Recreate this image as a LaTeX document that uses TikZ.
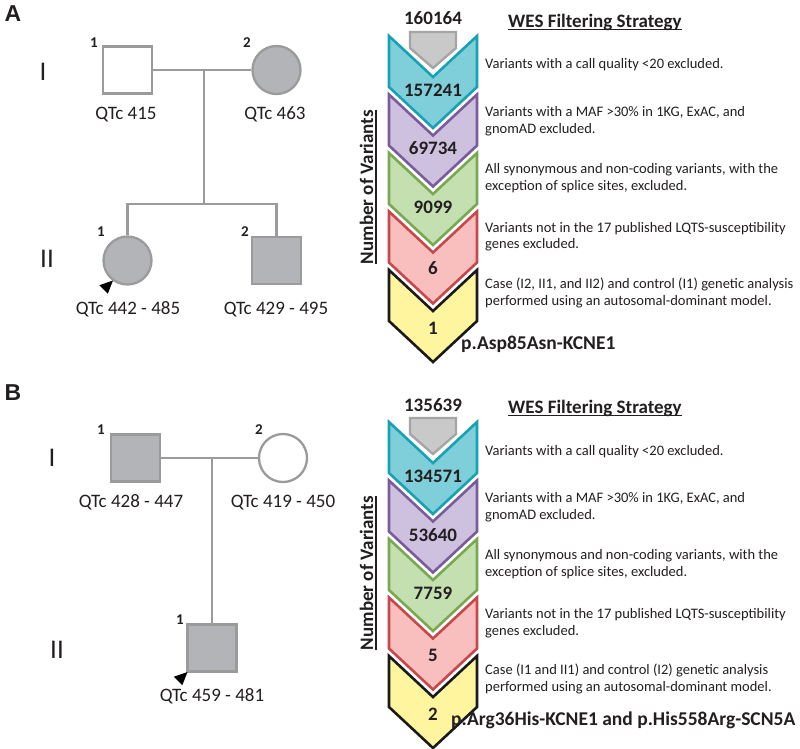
\documentclass[tikz,border=0pt]{standalone}
\usepackage{fontspec}
\setmainfont{Carlito}
\newfontfamily\panelfont{Liberation Sans}
\usetikzlibrary{calc}
\definecolor{pedline}{HTML}{9B9B9B}
\definecolor{pedfill}{HTML}{B3B4B7}
\definecolor{txtc}{HTML}{231F20}
\definecolor{grayS}{HTML}{A5A5A5}\definecolor{grayF}{HTML}{C9C9CA}
\definecolor{tealS}{HTML}{17A2B4}\definecolor{tealF}{HTML}{7ECFD9}
\definecolor{purpS}{HTML}{7A5C9C}\definecolor{purpF}{HTML}{CDC1DF}
\definecolor{grnS}{HTML}{78A852}\definecolor{grnF}{HTML}{C4DFB0}
\definecolor{redS}{HTML}{C8474A}\definecolor{redF}{HTML}{F9BFBF}
\definecolor{ylwS}{HTML}{1A1A1A}\definecolor{ylwF}{HTML}{FFF59F}
% #1 top y, #2 stroke, #3 fill : side 51, V depth 41
\newcommand\mychev[3]{%
  \draw[chev, draw=#2, fill=#3] (389,#1) -- (433,#1+41) -- (477,#1) -- (477,#1+51) -- (433,#1+92) -- (389,#1+51) -- cycle;}
\newcommand\mygray[1]{%
  \draw[line width=2.4pt, draw=grayS, fill=grayF, line join=miter] (410,#1) -- (456,#1) -- (456,#1+16) -- (433,#1+36) -- (410,#1+16) -- cycle;}
\begin{document}
\begin{tikzpicture}[x=1pt,y=-1pt,
  every node/.style={inner sep=0pt, text=txtc},
  chev/.style={line width=2.6pt, line join=miter},
  pl/.style={draw=pedline, line width=2.3pt},
  sq/.style={rectangle, draw=pedline, line width=2.3pt, minimum width=49pt, minimum height=47pt},
  ci/.style={circle, draw=pedline, line width=2.3pt, minimum size=48pt},
  aff/.style={fill=pedfill},
  unaff/.style={fill=white},
  desc/.style={anchor=base west, font=\fontsize{14.5}{17}\selectfont},
  num/.style={anchor=center, font=\bfseries\fontsize{19}{22}\selectfont},
  head/.style={anchor=base west, font=\bfseries\fontsize{19}{22}\selectfont},
  res/.style={anchor=base west, font=\bfseries\fontsize{19.5}{22}\selectfont},
  qtc/.style={anchor=base, font=\fontsize{19}{22}\selectfont},
  pnum/.style={anchor=center, font=\bfseries\fontsize{15}{18}\selectfont},
  gen/.style={anchor=center, font=\fontsize{27}{30}\selectfont},
  panel/.style={anchor=center, font=\panelfont\bfseries\fontsize{23}{26}\selectfont},
  prob/.style={fill=black}]
\useasboundingbox[fill=white] (0,0) rectangle (800,748);

% ================= Panel A =================
\node[panel] (lA) at (13,14) {A};
\node[gen] (gA1) at (43,72) {I};
\node[gen] (gA2) at (47,259) {II};

\node[sq, unaff] (a11) at (127.5,70) {};
\node[ci, aff] (a12) at (276.5,70) {};
\node[ci, aff] (a21) at (127.5,260.5) {};
\node[sq, aff] (a22) at (276.5,260.5) {};
\coordinate (am) at (204,70);
\coordinate (asib) at (204,204);
\coordinate (asl) at (127.5,204);
\coordinate (asr) at (276.5,204);
\draw[pl] (a11) -- (a12);
\draw[pl] (am) -- (asib);
\draw[pl, line cap=rect] (asl) -- (asr);
\draw[pl] (asl) -- (a21.north);
\draw[pl] (asr) -- (a22.north);
\node[pnum] (na11) at (94,43) {1};
\node[pnum] (na12) at (247,43) {2};
\node[pnum] (na21) at (101,232) {1};
\node[pnum] (na22) at (245,232) {2};
\node[qtc] (qa11) at (126,119) {QTc 415};
\node[qtc] (qa12) at (275,119) {QTc 463};
\node[qtc] (qa21) at (128,314) {QTc 442 - 485};
\node[qtc] (qa22) at (276,314) {QTc 429 - 495};
\fill[prob] (113,280.5) -- (99.3,285.2) -- (107.8,293.7) -- cycle;

% chevrons A
\node[num] (cA0) at (433,18) {160164};
\mygray{32}
\mychev{36}{tealS}{tealF}
\mychev{94.5}{purpS}{purpF}
\mychev{153}{grnS}{grnF}
\mychev{211.5}{redS}{redF}
\mychev{270}{ylwS}{ylwF}
\node[num] (cA1) at (433,90) {157241};
\node[num] (cA2) at (433,148) {69734};
\node[num] (cA3) at (433,207) {9099};
\node[num] (cA4) at (433,268) {6};
\node[num] (cA5) at (433,328) {1};

\node[anchor=base, rotate=90, font=\bfseries\fontsize{19}{22}\selectfont] (nvA) at (373,187) {Number of Variants};
\draw[line width=1.1pt, draw=txtc] ($(nvA.base west)+(3,0)$) -- ($(nvA.base east)+(3,0)$);

\node[head] (wesA) at (508,27) {WES Filtering Strategy};
\draw[line width=1.1pt, draw=txtc] ($(wesA.base west)+(0,2.5)$) -- ($(wesA.base east)+(0,2.5)$);

\node[desc] (dA1) at (485,68) {Variants with a call quality <20 excluded.};
\node[desc] (dA2a) at (485,116) {Variants with a MAF >30\% in 1KG, ExAC, and};
\node[desc] (dA2b) at (485,133) {gnomAD excluded.};
\node[desc] (dA3a) at (485,173) {All synonymous and non-coding variants, with the};
\node[desc] (dA3b) at (485,190) {exception of splice sites, excluded.};
\node[desc] (dA4a) at (485,232) {Variants not in the 17 published LQTS-susceptibility};
\node[desc] (dA4b) at (485,248) {genes excluded.};
\node[desc] (dA5a) at (485,288) {Case (I2, II1, and II2) and control (I1) genetic analysis};
\node[desc] (dA5b) at (485,305) {performed using an autosomal-dominant model.};
\node[res] (rA) at (461,349) {p.Asp85Asn-KCNE1};

% ================= Panel B =================
\node[panel] (lB) at (13,393) {B};
\node[gen] (gB1) at (52,458) {I};
\node[gen] (gB2) at (57,650) {II};

\node[sq, aff] (b11) at (135.5,458) {};
\node[ci, unaff] (b12) at (283,458) {};
\node[sq, aff] (b21) at (212,648) {};
\coordinate (bm) at (212,458);
\draw[pl] (b11) -- (b12);
\draw[pl] (bm) -- (b21.north);
\node[pnum] (nb11) at (101,430) {1};
\node[pnum] (nb12) at (259,430) {2};
\node[pnum] (nb21) at (180,620) {1};
\node[qtc] (qb11) at (131,507) {QTc 428 - 447};
\node[qtc] (qb12) at (283,507) {QTc 419 - 450};
\node[qtc] (qb21) at (212,701) {QTc 459 - 481};
\fill[prob] (187.5,672) -- (173.8,676.7) -- (182.3,685.2) -- cycle;

% chevrons B
\node[num] (cB0) at (433,405) {135639};
\mygray{418}
\mychev{422}{tealS}{tealF}
\mychev{480.5}{purpS}{purpF}
\mychev{539}{grnS}{grnF}
\mychev{597.5}{redS}{redF}
\mychev{656}{ylwS}{ylwF}
\node[num] (cB1) at (433,476) {134571};
\node[num] (cB2) at (433,535) {53640};
\node[num] (cB3) at (433,593) {7759};
\node[num] (cB4) at (433,655) {5};
\node[num] (cB5) at (433,714) {2};

\node[anchor=base, rotate=90, font=\bfseries\fontsize{19}{22}\selectfont] (nvB) at (373,573) {Number of Variants};
\draw[line width=1.1pt, draw=txtc] ($(nvB.base west)+(3,0)$) -- ($(nvB.base east)+(3,0)$);

\node[head] (wesB) at (508,413) {WES Filtering Strategy};
\draw[line width=1.1pt, draw=txtc] ($(wesB.base west)+(0,2.5)$) -- ($(wesB.base east)+(0,2.5)$);

\node[desc] (dB1) at (485,455) {Variants with a call quality <20 excluded.};
\node[desc] (dB2a) at (485,502) {Variants with a MAF >30\% in 1KG, ExAC, and};
\node[desc] (dB2b) at (485,519) {gnomAD excluded.};
\node[desc] (dB3a) at (485,559) {All synonymous and non-coding variants, with the};
\node[desc] (dB3b) at (485,576) {exception of splice sites, excluded.};
\node[desc] (dB4a) at (485,618) {Variants not in the 17 published LQTS-susceptibility};
\node[desc] (dB4b) at (485,635) {genes excluded.};
\node[desc] (dB5a) at (485,674) {Case (I1 and II1) and control (I2) genetic analysis};
\node[desc] (dB5b) at (485,691) {performed using an autosomal-dominant model.};
\node[res] (rB) at (451,725) {p.Arg36His-KCNE1 and p.His558Arg-SCN5A};
\end{tikzpicture}
\end{document}
